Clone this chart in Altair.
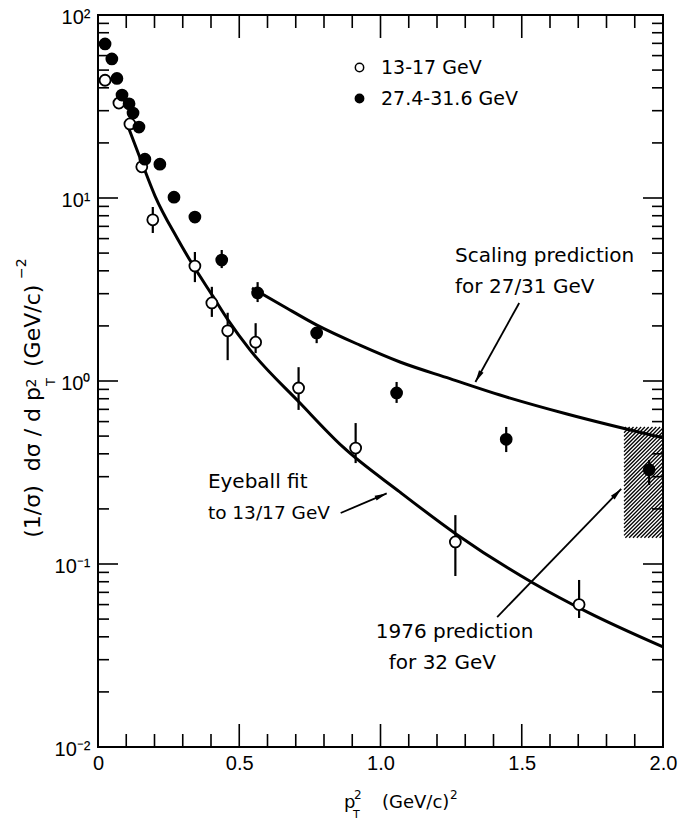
import math
import altair as alt
import pandas as pd

FONT = "Liberation Sans"
TFONT = "DejaVu Sans"
W, H = 565, 732
NB = "\u00a0"

series_names = ["13-17 GeV", "27.4-31.6 GeV"]

# 13-17 GeV (open circles)
open_x = [0.025, 0.074, 0.113, 0.155, 0.194, 0.343, 0.403, 0.459, 0.558, 0.710, 0.912, 1.265, 1.703]
open_y = [44, 33, 25.4, 14.8, 7.6, 4.25, 2.67, 1.88, 1.63, 0.916, 0.43, 0.132, 0.060]
open_err_x = [0.194, 0.343, 0.403, 0.459, 0.558, 0.710, 0.912, 1.265, 1.703]
open_err_hi = [8.93, 5.07, 3.27, 2.36, 2.07, 1.19, 0.589, 0.185, 0.0818]
open_err_lo = [6.44, 3.47, 2.24, 1.30, 1.42, 0.695, 0.356, 0.086, 0.0507]

# 27.4-31.6 GeV (filled circles)
full_x = [0.025, 0.049, 0.067, 0.085, 0.110, 0.124, 0.145, 0.166, 0.219, 0.269, 0.343,
          0.438, 0.565, 0.774, 1.057, 1.445, 1.951]
full_y = [69.5, 57.5, 45, 36.5, 32.7, 29.1, 24.4, 16.3, 15.3, 10.1, 7.87,
          4.58, 3.03, 1.83, 0.86, 0.48, 0.327]
full_err_x = [0.438, 0.565, 0.774, 1.057, 1.445, 1.951]
full_err_hi = [5.2, 3.47, 1.97, 0.988, 0.561, 0.37]
full_err_lo = [4.14, 2.70, 1.61, 0.759, 0.409, 0.27]

# eyeball fit to 13/17 GeV
fit_x = [0.106, 0.156, 0.202, 0.280, 0.336, 0.404, 0.460, 0.538, 0.715, 0.867, 1.069, 1.267, 1.540, 1.731, 2.0]
fit_y = [24.7, 15.5, 10.25, 6.04, 4.30, 2.95, 2.16, 1.48, 0.758, 0.436, 0.247, 0.146, 0.0787, 0.0547, 0.0352]

# scaling prediction for 27/31 GeV
sc_x = [0.545, 0.655, 0.775, 0.927, 1.069, 1.246, 1.423, 1.660, 2.0]
sc_y = [3.22, 2.57, 2.02, 1.57, 1.27, 1.03, 0.838, 0.660, 0.489]

# 1976 prediction box (hatched)
box_x = [1.862, 2.0]
box_y = [0.139, 0.56]

# axis labels
x_label_values = [0, 0.5, 1.0, 1.5, 2.0]
x_label_text = ["0", "0.5", "1.0", "1.5", "2.0"]
y_label_values = [0.01, 0.1, 1, 10, 100]
y_label_text = ["10\u207b\u00b2", "10\u207b\u00b9", "10\u2070", "10\u00b9", "10\u00b2"]
x_minor_ticks = [0.1, 0.2, 0.3, 0.4, 0.6, 0.7, 0.8, 0.9, 1.1, 1.2, 1.3, 1.4, 1.6, 1.7, 1.8, 1.9]
x_major_ticks = [0.5, 1.0, 1.5]
y_major_ticks = [0.1, 1, 10]
y_minor_ticks = [k * 10.0 ** e for e in (-2, -1, 0, 1) for k in range(2, 10)]

# annotations (text, x, y, align, size)
ann_text = ["Scaling prediction", "for 27/31 GeV", "Eyeball fit", "to 13/17 GeV",
            "1976 prediction", "for 32 GeV"]
ann_x = [1.264, 1.264, 0.389, 0.389, 1.262, 1.219]
ann_y = [4.82, 3.27, 0.2805, 0.190, 0.0425, 0.0288]
ann_align = ["left", "left", "left", "left", "center", "center"]
ann_size = [20, 20, 20, 18.5, 20, 20]

# arrows (start x, start y, end x, end y)
arr_x1 = [1.491, 0.859, 1.413]
arr_y1 = [2.67, 0.19, 0.0513]
arr_x2 = [1.336, 1.022, 1.852]
arr_y2 = [0.988, 0.243, 0.257]


def px(x):
    return x / 2.0 * W


def py(y):
    return (2 - math.log10(y)) / 4.0 * H


def inv_x(p):
    return p / W * 2.0


def inv_y(p):
    return 10 ** (2 - p / H * 4.0)


def chain_expr(vals, texts):
    expr = "''"
    for v, t in zip(vals, texts):
        expr = f"abs(datum.value - {v}) < {abs(v) * 1e-6 + 1e-9} ? '{t}' : " + expr
    return expr


XS = alt.Scale(domain=[0, 2], nice=False, zero=False)
YS = alt.Scale(type="log", domain=[0.01, 100], nice=False)
XAX = alt.Axis(values=x_label_values, labelExpr=chain_expr(x_label_values, x_label_text),
               ticks=False, domain=False, grid=False, labelFont=FONT, labelFontSize=20,
               labelColor="black", labelPadding=6, title=None, labelFlush=False, labelOverlap=False)
YAX = alt.Axis(values=y_label_values, labelExpr=chain_expr(y_label_values, y_label_text),
               ticks=False, domain=False, grid=False, labelFont=FONT, labelFontSize=20,
               labelColor="black", labelPadding=8, title=None, labelFlush=False, labelOverlap=False,
               labelOffset=2)


def X(f):
    return alt.X(f"{f}:Q", scale=XS, axis=XAX)


def Y(f):
    return alt.Y(f"{f}:Q", scale=YS, axis=YAX)


layers = []


# ---- tick marks (inward, on all four sides) ----
def xticks(vals, length):
    df = pd.DataFrame({"v": vals})
    b = alt.Chart(df).mark_rule(color="black", strokeWidth=1.6)
    return [b.encode(x=X("v"), y=alt.value(H), y2=alt.value(H - length)),
            b.encode(x=X("v"), y=alt.value(0), y2=alt.value(length))]


def yticks(vals, length):
    df = pd.DataFrame({"v": vals})
    b = alt.Chart(df).mark_rule(color="black", strokeWidth=1.6)
    return [b.encode(y=Y("v"), x=alt.value(0), x2=alt.value(length)),
            b.encode(y=Y("v"), x=alt.value(W), x2=alt.value(W - length))]


layers += xticks(x_minor_ticks, 13)
layers += xticks(x_major_ticks, 23)
layers += yticks(y_minor_ticks, 11)
layers += yticks(y_major_ticks, 20)

# ---- hatched box ----
u0, u1 = px(box_x[0]), px(box_x[1])
v0, v1 = py(box_y[1]), py(box_y[0])
hatch = []
step = 3.8
c = u0 + v0 + step / 2
while c < u1 + v1:
    ua = max(u0, c - v1)
    ub = min(u1, c - v0)
    if ub > ua:
        hatch.append({"x1": inv_x(ua), "y1": inv_y(c - ua), "x2": inv_x(ub), "y2": inv_y(c - ub)})
    c += step
hatch_df = pd.DataFrame(hatch)
layers.append(alt.Chart(hatch_df).mark_rule(color="black", strokeWidth=1.3).encode(
    x=X("x1"), y=Y("y1"), x2="x2:Q", y2="y2:Q"))

# ---- curves ----
fit_df = pd.DataFrame({"x": fit_x, "y": fit_y})
sc_df = pd.DataFrame({"x": sc_x, "y": sc_y})
for d in (fit_df, sc_df):
    layers.append(alt.Chart(d).mark_line(color="black", strokeWidth=3, interpolate="monotone").encode(
        x=X("x"), y=Y("y")))

# ---- error bars ----
err_df = pd.DataFrame({"x": open_err_x + full_err_x,
                       "lo": open_err_lo + full_err_lo,
                       "hi": open_err_hi + full_err_hi})
layers.append(alt.Chart(err_df).mark_rule(color="black", strokeWidth=2.2).encode(
    x=X("x"), y=Y("lo"), y2="hi:Q"))

# ---- arrows ----
arr_df = pd.DataFrame({"x1": arr_x1, "y1": arr_y1, "x2": arr_x2, "y2": arr_y2})
arr_df["ang"] = [
    (math.degrees(math.atan2(px(b) - px(a), -(py(d) - py(cc)))) + 360) % 360
    for a, cc, b, d in zip(arr_x1, arr_y1, arr_x2, arr_y2)
]
layers.append(alt.Chart(arr_df).mark_rule(color="black", strokeWidth=1.8).encode(
    x=X("x1"), y=Y("y1"), x2="x2:Q", y2="y2:Q"))
layers.append(alt.Chart(arr_df).mark_point(
    shape="M0,0L-0.32,1.5L0.32,1.5Z", filled=True, color="black", size=260, opacity=1).encode(
    x=X("x2"), y=Y("y2"), angle=alt.Angle("ang:Q", scale=None)))

# ---- data points ----
pts_df = pd.DataFrame({
    "x": open_x + full_x,
    "y": open_y + full_y,
    "series": [series_names[0]] * len(open_x) + [series_names[1]] * len(full_x),
})
layers.append(alt.Chart(pts_df).mark_circle(size=120, stroke="black", strokeWidth=1.8, opacity=1).encode(
    x=X("x"), y=Y("y"),
    fill=alt.Fill("series:N", scale=alt.Scale(domain=series_names, range=["white", "black"]),
                  legend=alt.Legend(orient="none", legendX=252, legendY=43, title=None,
                                    labelFont=TFONT, labelFontSize=19, labelColor="black",
                                    symbolType="circle", symbolSize=70, symbolStrokeColor="black",
                                    symbolStrokeWidth=1.5, rowPadding=11, labelOffset=12,
                                    padding=0, symbolOpacity=1))))

# ---- annotation texts ----
for t, x, y, al, sz in zip(ann_text, ann_x, ann_y, ann_align, ann_size):
    d = pd.DataFrame({"t": [t], "x": [x], "y": [y]})
    layers.append(alt.Chart(d).mark_text(align=al, baseline="middle", font=TFONT, fontSize=sz,
                                         color="black").encode(x=X("x"), y=Y("y"), text="t:N"))


# ---- axis titles as text pieces ----
def txt(s, x, y, size, align="left", angle=0, baseline="alphabetic"):
    kw = dict(align=align, baseline=baseline, font=TFONT, fontSize=size, color="black")
    if angle:
        kw["angle"] = angle
    return alt.Chart(pd.DataFrame({"t": [s]})).mark_text(**kw).encode(
        x=alt.value(x), y=alt.value(y), text="t:N")


ytitle_a = "(1/\u03c3)" + NB * 2 + "d\u03c3" + NB + "/" + NB + "d" + NB + "p"
layers += [
    txt("p", 246, 793, 18),
    txt("2", 256, 784, 12),
    txt("T", 255, 803, 11),
    txt("(GeV/c)", 284, 793, 18),
    txt("2", 352, 784, 12),
    txt(ytitle_a, -58, 372, 22, align="right", angle=270),
    txt("2", -62, 368, 14, align="center", angle=270),
    txt("T", -43, 367, 13, align="center", angle=270),
    txt("(GeV/c)", -58, 352, 22, align="left", angle=270),
    txt("\u22122", -72, 264, 14, align="left", angle=270),
]

chart = alt.layer(*layers).properties(
    width=W, height=H,
    padding={"left": 90, "top": 7, "right": 22, "bottom": 75},
    autosize="none",
    background="white",
).configure_view(stroke="black", strokeWidth=2)

chart.save("out.html", embed_options={"renderer": "svg", "actions": False})
